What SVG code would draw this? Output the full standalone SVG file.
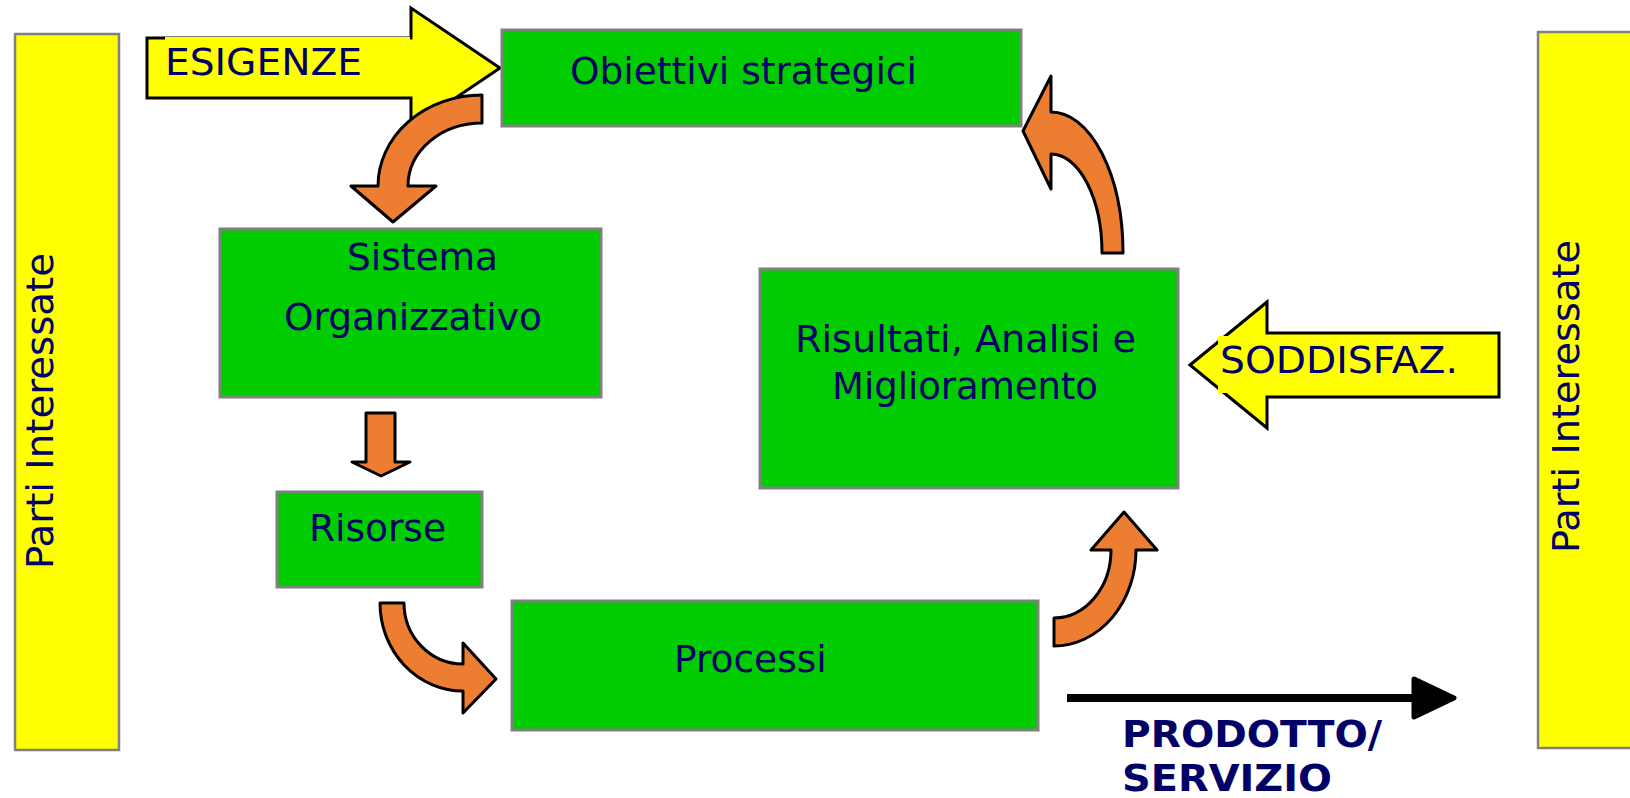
<svg xmlns="http://www.w3.org/2000/svg" width="1630" height="798" viewBox="0 0 1630 798">
<style>
.bar{fill:#FFFF00;stroke:#808080;stroke-width:2.5}
.box{fill:#00CC00;stroke:#808080;stroke-width:3}
.t{font-family:"DejaVu Sans",Verdana,sans-serif;font-size:37.5px;fill:#000066}
.tb{font-family:"DejaVu Sans",Verdana,sans-serif;font-size:37.5px;font-weight:bold;fill:#000066}
.ya{fill:#FFFF00;stroke:#000;stroke-width:3;stroke-linejoin:miter}
.oa{fill:#ED7D31;stroke:#000;stroke-width:3;stroke-linejoin:round}
</style>
<rect width="1630" height="798" fill="#fff"/>

<g id="parti-left">
<rect class="bar" x="15" y="34" width="104" height="716"/>
<text class="t" transform="translate(53,569) rotate(-90)" textLength="316" lengthAdjust="spacingAndGlyphs">Parti Interessate</text>
</g>

<g id="parti-right">
<rect class="bar" x="1538" y="32" width="100" height="716"/>
<text class="t" transform="translate(1579,553) rotate(-90)" textLength="313" lengthAdjust="spacingAndGlyphs">Parti Interessate</text>
</g>

<g id="esigenze">
<path class="ya" d="M147,38 L411,38 L411,8 L500,68 L411,128 L411,98 L147,98 Z"/>
<rect x="165" y="37" width="245" height="50" fill="#FFFF00"/>
<text class="t" x="165" y="75" textLength="197" lengthAdjust="spacingAndGlyphs">ESIGENZE</text>
</g>

<g id="obiettivi">
<rect class="box" x="502" y="30" width="519" height="96"/>
<text class="t" x="570" y="84">Obiettivi strategici</text>
</g>

<g id="sistema">
<rect class="box" x="220" y="229" width="381" height="168"/>
<text class="t" x="347" y="270">Sistema</text>
<text class="t" x="284" y="330">Organizzativo</text>
</g>

<g id="risorse">
<rect class="box" x="277" y="492" width="205" height="95"/>
<text class="t" x="309" y="541">Risorse</text>
</g>

<g id="processi">
<rect class="box" x="512" y="601" width="526" height="129"/>
<text class="t" x="674" y="672">Processi</text>
</g>

<g id="risultati">
<rect class="box" x="760" y="269" width="418" height="219"/>
<text class="t" x="795" y="352" textLength="341" lengthAdjust="spacingAndGlyphs">Risultati, Analisi e</text>
<text class="t" x="832" y="399" textLength="266" lengthAdjust="spacingAndGlyphs">Miglioramento</text>
</g>

<g id="soddisfaz">
<path class="ya" d="M1190,365 L1267,302 L1267,333 L1499,333 L1499,397 L1267,397 L1267,428 Z"/>
<rect x="1218" y="336" width="245" height="57" fill="#FFFF00"/>
<text class="t" x="1220" y="373" textLength="238" lengthAdjust="spacingAndGlyphs">SODDISFAZ.</text>
</g>

<g id="prodotto-servizio">
<text class="tb" x="1122" y="747" textLength="260" lengthAdjust="spacingAndGlyphs">PRODOTTO/</text>
<text class="tb" x="1122" y="791" textLength="210" lengthAdjust="spacingAndGlyphs">SERVIZIO</text>
</g>

<g id="connectors">
<path class="oa" d="M482,95 L482,123 A74,63 0 0 0 408,186 L436,186 L393,222 L351,186 L378,186 A104,91 0 0 1 482,95 Z"/>
<path class="oa" d="M366,413 L395,413 L395,462 L410,462 L381,476 L352,462 L366,462 Z"/>
<path class="oa" d="M380,603 L404,603 A59,61 0 0 0 463,664 L463,643 L496,679 L463,713 L463,691 A83,88 0 0 1 380,603 Z"/>
<path class="oa" d="M1124,512 L1157,550 L1136,550 A82,96 0 0 1 1054,646 L1054,618 A57,68 0 0 0 1111,550 L1091,550 Z"/>
<path class="oa" d="M1023,131 L1051,76 L1051,112 A72,141 0 0 1 1123,253 L1102,253 A51,99 0 0 0 1051,154 L1051,189 Z"/>
<line x1="1067" y1="698" x2="1420" y2="698" stroke="#000" stroke-width="8"/>
<path d="M1414,679 L1454,698 L1414,717 Z" fill="#000" stroke="#000" stroke-width="5" stroke-linejoin="round"/>
</g>
</svg>
